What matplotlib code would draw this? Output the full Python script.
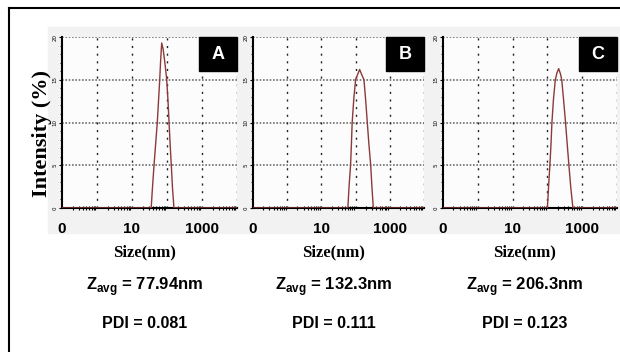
import matplotlib
matplotlib.use("Agg")
import matplotlib.pyplot as plt
from matplotlib.patches import Rectangle
from matplotlib.ticker import LogLocator, NullFormatter, MultipleLocator

plt.rcParams["mathtext.fontset"] = "custom"
plt.rcParams["mathtext.bf"] = "Liberation Sans:bold"

# data: size (nm) vs intensity (%)
size_a = [0.1, 35.4, 37.9, 42.6, 47.8, 52.8, 57.4, 61.9, 65.9, 70.6, 77.4, 86.9, 98.2,
          106.9, 114.5, 122.7, 132.7, 144.2, 158.1, 10000]
int_a = [0, 0, 2.0, 5.0, 7.7, 10.0, 12.6, 15.0, 17.3, 19.3, 18.6, 17.0, 15.0,
         12.5, 10.0, 7.5, 5.0, 2.2, 0, 0]

size_b = [0.1, 59.4, 64.3, 71.3, 75.5, 79.4, 88.7, 100, 114.3, 131.2, 150.7, 175.4,
          196.3, 219.8, 244.3, 276.7, 300.6, 329.6, 10000]
int_b = [0, 0, 2.5, 5.0, 7.5, 10.0, 12.8, 15.0, 15.6, 16.2, 15.6, 15.0,
         12.7, 10.0, 7.5, 5.0, 2.4, 0, 0]

size_c = [0.1, 100, 108.1, 117.8, 127.1, 134.9, 149.3, 168.7, 187.9, 210.9, 236.6, 258.2,
          291.1, 331.9, 370.7, 415, 472, 542, 10000]
int_c = [0, 0, 2.5, 5.0, 7.5, 10.0, 12.7, 15.0, 15.8, 16.3, 15.7, 15.0,
         12.7, 10.0, 7.5, 5.0, 2.3, 0, 0]

labels = ["A", "B", "C"]
zavg = ["77.94nm", "132.3nm", "206.3nm"]
pdi = ["0.081", "0.111", "0.123"]
xticks = [0.1, 10, 1000]
xticklabels = ["0", "10", "1000"]
yticks = [0, 5, 10, 15, 20]

W, H = 620, 352
fig = plt.figure(figsize=(6.2, 3.52), dpi=100)

# panel geometry in pixels (left, width)
panels = [(62, 175), (253, 171), (443, 174)]
top_px, bot_px = 37, 208
curves = [(size_a, int_a), (size_b, int_b), (size_c, int_c)]

# outer frame (top and left only, rest is cropped)
fig.add_artist(plt.Line2D([9 / W, 1], [1 - 8 / H, 1 - 8 / H], color="black", lw=1.5))
fig.add_artist(plt.Line2D([9 / W, 9 / W], [0, 1 - 8 / H], color="black", lw=1.5))

for i, (lp, wp) in enumerate(panels):
    # light grey scan background
    fig.add_artist(Rectangle(((lp - 14) / W, 1 - 233 / H), (wp + 18) / W, 206 / H,
                             transform=fig.transFigure, color="#f2f2f2", zorder=0))
    ax = fig.add_axes([lp / W, 1 - bot_px / H, wp / W, (bot_px - top_px) / H])
    ax.set_facecolor("#fcfcfc")
    xs, ys = curves[i]
    ax.plot(xs, ys, color="#8b3a3a", lw=1.0, zorder=3)
    ax.set_xscale("log")
    ax.set_xlim(0.1, 10000)
    ax.set_ylim(0, 20)

    for y in [5, 10, 15, 20]:
        ax.axhline(y, color="#707070", lw=1.2, ls=(0, (1, 1)), zorder=1)
    for x in [1, 10, 100, 1000, 10000]:
        ax.axvline(x, color="#222222", lw=1.0, ls=(0, (1.5, 4)), zorder=1)

    ax.spines["top"].set_visible(False)
    ax.spines["right"].set_visible(False)
    ax.spines["left"].set_linewidth(1.5)
    ax.spines["bottom"].set_linewidth(1.5)

    ax.set_xticks(xticks)
    ax.set_xticklabels(xticklabels, fontfamily="Liberation Sans", fontweight="bold", fontsize=11)
    ax.xaxis.set_minor_locator(LogLocator(base=10, subs=range(2, 10), numticks=20))
    ax.xaxis.set_minor_formatter(NullFormatter())
    ax.tick_params(axis="x", which="major", length=0, pad=10)
    ax.tick_params(axis="x", which="minor", length=3, width=0.8, direction="inout")

    ax.set_yticks(yticks)
    ax.set_yticklabels([str(v) for v in yticks], fontsize=4, rotation=90, va="center")
    ax.yaxis.set_minor_locator(MultipleLocator(1))
    ax.tick_params(axis="y", which="major", length=2, pad=1)
    ax.tick_params(axis="y", which="minor", length=1.5, width=0.6)

    # label box in the top right corner
    ax.add_patch(Rectangle((0.78, 0.80), 0.22, 0.20, transform=ax.transAxes,
                           color="black", zorder=5, clip_on=False))
    ax.text(0.89, 0.90, labels[i], transform=ax.transAxes, color="white",
            fontfamily="Liberation Sans", fontweight="bold", fontsize=13,
            ha="center", va="center", zorder=6)

    cx = (lp + wp / 2 - 5) / W
    fig.text(cx, 1 - 252 / H, "Size(nm)", fontfamily="Liberation Serif", fontweight="bold",
             fontsize=12, ha="center", va="center")
    fig.text(cx, 1 - 287 / H, r"Z$_{\mathbf{avg}}$ = " + zavg[i], fontfamily="Liberation Sans",
             fontweight="bold", fontsize=12, ha="center", va="center")
    fig.text(cx, 1 - 323 / H, "PDI = " + pdi[i], fontfamily="Liberation Sans",
             fontweight="bold", fontsize=11.5, ha="center", va="center")

fig.text(42 / W, 1 - 133 / H, "Intensity (%)", fontfamily="Liberation Serif", fontweight="bold",
         fontsize=16, rotation=90, ha="center", va="center")

plt.savefig("out.png", dpi=100)
plt.close()
